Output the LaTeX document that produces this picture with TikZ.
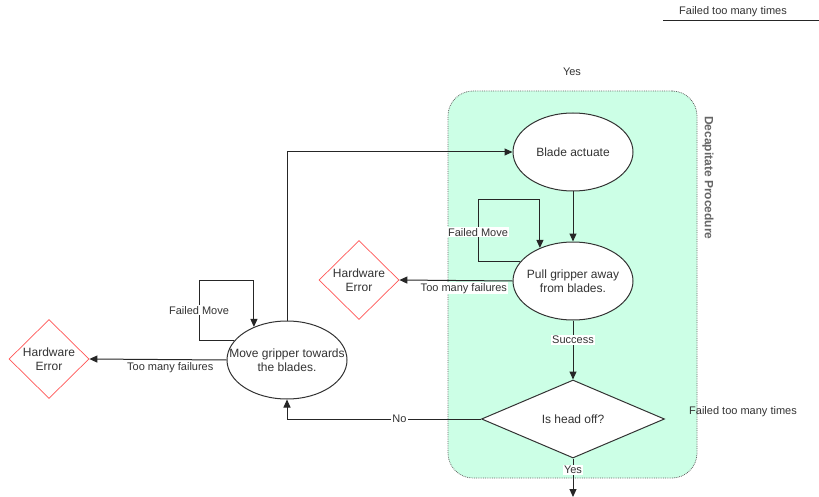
\documentclass[tikz,border=0pt]{standalone}
\usepackage{fontspec}
\setmainfont{Liberation Sans}
\usetikzlibrary{arrows.meta, positioning, shapes.geometric}
\definecolor{mint}{HTML}{CCFFE6}
\definecolor{txtgray}{HTML}{333333}
\definecolor{boxgray}{HTML}{666666}
\definecolor{errred}{HTML}{FF5555}

\begin{document}
\begin{tikzpicture}[
    x=1pt, y=-1pt,
    proc/.style={ellipse, draw=txtgray, fill=white, line width=1pt, minimum width=120pt, minimum height=78pt, inner xsep=-18pt, inner ysep=0pt, align=center, font=\fontsize{12}{14}\selectfont, text=txtgray},
    decide/.style={diamond, draw=txtgray, fill=white, line width=1pt, minimum width=183pt, minimum height=78pt, inner sep=0pt, font=\fontsize{12}{14}\selectfont, text=txtgray},
    hwerr/.style={diamond, draw=errred, fill=white, line width=0.7pt, minimum width=80pt, minimum height=79pt, inner sep=0pt, align=center, font=\fontsize{12}{14}\selectfont, text=txtgray},
    group/.style={draw=boxgray, densely dotted, line width=0.8pt, fill=mint, rounded corners=25pt, minimum width=249pt, minimum height=387pt},
    arr/.style={-{Triangle[length=8pt, width=7pt]}, line width=1pt, black!85},
    elabel/.style={font=\fontsize{11}{13}\selectfont, text=txtgray, fill=white, inner sep=1pt},
    note/.style={font=\fontsize{11}{13}\selectfont, text=txtgray},
]

\useasboundingbox[fill=white] (0,0) rectangle (819,497);

% ── Group ──
\node[group] (decap) at (572.5,284.5) {};
\node[font=\bfseries\fontsize{12}{14}\selectfont, text=boxgray, rotate=-90] (decaplbl) at (708,178) {Decapitate Procedure};

% ── Process nodes ──
\node[proc] (blade) at (573,152) {Blade actuate};
\node[proc] (pull) at (573,281) {Pull gripper away\\from blades.};
\node[decide] (head) at (573,419) {Is head off?};
\node[proc] (move) at (287,360) {Move gripper towards\\the blades.};

% ── Error nodes ──
\node[hwerr] (errL) at (49,359) {Hardware\\Error};
\node[hwerr] (errM) at (359,280) {Hardware\\Error};

% ── Loop corners and free ends ──
\coordinate (pullLoop) at (478,200);
\coordinate (moveLoop) at (199,280);
\coordinate (exitEnd) at (573,497);
\coordinate (lineA) at (663,21);
\coordinate (lineB) at (819,21);

% ── Arrows with edge labels ──
\draw[arr] (move.north) |- (blade.west);
\draw[arr] (blade) -- (pull);
\draw[arr] (pull.160) -| node[elabel, pos=0.74] {Failed Move} (pullLoop) -| (pull.135);
\draw[arr] (pull.west) -- node[elabel, below=1pt, pos=0.43] {Too many failures} (errM.east);
\draw[arr] (pull) -- node[elabel, pos=0.33] {Success} (head);
\draw[arr] (head.west) -| node[elabel, pos=0.21] {No} (move.south);
\draw[arr] (head) -- node[elabel, pos=0.3] {Yes} (exitEnd);
\draw[arr] (move.160) -| node[elabel, pos=0.75] {Failed Move} (moveLoop) -| (move.135);
\draw[arr] (move.west) -- node[elabel, below=1pt, pos=0.41] {Too many failures} (errL.east);

% ── Loose notes ──
\node[note] (yesTop) at (572,72) {Yes};
\node[note] (failSide) at (743,412) {Failed too many times};
\node[note] (failTop) at (733,12) {Failed too many times};
\draw[line width=1pt, black!85] (lineA) -- (lineB);

\end{tikzpicture}
\end{document}
